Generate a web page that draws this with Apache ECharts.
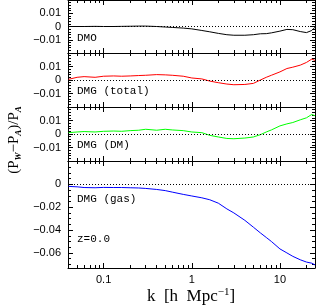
<!DOCTYPE html>
<html><head><meta charset="utf-8">
<script src="https://cdn.jsdelivr.net/npm/echarts@6/dist/echarts.min.js"></script>
<style>html,body{margin:0;padding:0;background:#fff}#c{width:316px;height:307px}</style>
</head><body><div id="c"></div>
<script>
// ---- data ----
const kValues = [0.04,0.05,0.06,0.08,0.1,0.13,0.16,0.2,0.25,0.3,0.4,0.5,0.6,0.8,1.0,1.3,1.6,2.0,2.5,3.0,4.0,5.0,6.0,7.0,8.0,10,12,14,17,20,23,25];
const dmoValues = [0.0,0.0,0.0,0.0001,0.0,0.0,0.0001,0.0002,0.0003,0.0003,0.0,-0.0004,-0.0007,-0.0012,-0.0018,-0.003,-0.004,-0.0052,-0.0062,-0.0066,-0.0066,-0.0062,-0.0055,-0.0054,-0.0048,-0.0035,-0.0022,-0.0024,-0.0038,-0.0046,-0.003,-0.0005];
const totalValues = [0.0005,0.002,0.0025,0.002,0.0028,0.003,0.0028,0.003,0.0033,0.0035,0.004,0.0038,0.0035,0.0028,0.0015,0.0008,-0.0008,-0.002,-0.003,-0.0035,-0.0033,-0.0025,0.0,0.002,0.0035,0.006,0.0085,0.0095,0.011,0.013,0.0155,0.0145];
const dmValues = [0.001,0.0015,0.0018,0.0015,0.002,0.0022,0.002,0.0025,0.0028,0.0035,0.0028,0.0035,0.003,0.0025,0.0015,0.001,-0.001,-0.0022,-0.0033,-0.0035,-0.003,-0.0022,-0.0005,0.0015,0.003,0.006,0.0075,0.0085,0.0105,0.012,0.0145,0.0135];
const gasValues = [-0.0018,-0.0022,-0.0028,-0.003,-0.0027,-0.0028,-0.0028,-0.003,-0.0032,-0.0036,-0.0045,-0.0055,-0.0068,-0.0088,-0.0102,-0.0118,-0.0135,-0.0165,-0.0215,-0.025,-0.0315,-0.0375,-0.0425,-0.0465,-0.05,-0.0565,-0.06,-0.063,-0.066,-0.068,-0.069,-0.0705];
const xTickLabels = [0.1, 1, 10];
const xMinorTicks = [0.04,0.05,0.06,0.07,0.08,0.09,0.2,0.3,0.4,0.5,0.6,0.7,0.8,0.9,2,3,4,5,6,7,8,9,20];
const smallPanelTickLabels = [-0.01, 0, 0.01];
const gasTickLabels = [-0.06, -0.04, -0.02, 0];
const gasMinorTicks = [-0.07,-0.065,-0.06,-0.055,-0.05,-0.045,-0.04,-0.035,-0.03,-0.025,-0.02,-0.015,-0.01,-0.005,0,0.005,0.01,0.015,0.02];
const panelNames = ['DMO', 'DMG (total)', 'DMG (DM)', 'DMG (gas)'];
const redshiftLabel = 'z=0.0';
const seriesValues = [dmoValues, totalValues, dmValues, gasValues];
const seriesColors = ['#000000', '#ff0000', '#00ff00', '#0000ff'];

// ---- layout ----
const KMIN = 0.0394, KMAX = 25;
const panels = [
  {top: 0, h: 53, ymin: -0.02, ymax: 0.02},
  {top: 53, h: 54, ymin: -0.02, ymax: 0.02},
  {top: 107, h: 54, ymin: -0.02, ymax: 0.02},
  {top: 161, h: 107, ymin: -0.0732, ymax: 0.0204}
];
const LEFT = 68, RIGHT = 1;
const black = '#000';
const tickFont = {color: black, fontSize: 11, fontFamily: 'Liberation Sans'};

function near(list, v) { return list.find(t => Math.abs(t - v) < 1e-7); }
function fmtNum(t) {
  if (Math.abs(t) < 1e-12) return '0';
  return (t < 0 ? '\u2212' : '') + String(Math.abs(t));
}

const grids = [], xAxes = [], yAxes = [], series = [];
panels.forEach((p, i) => {
  grids.push({left: LEFT, right: RIGHT, top: p.top, height: p.h, outerBoundsMode: 'none', containLabel: false});
});
panels.forEach((p, i) => {
  grids.push({left: LEFT, right: RIGHT, top: p.top, height: p.h, outerBoundsMode: 'none', containLabel: false});
});

panels.forEach((p, i) => {
  const isLast = i === 3;
  // main x axes (log, major ticks at decades)
  ['bottom', 'top'].forEach(pos => {
    xAxes.push({
      gridIndex: i, type: 'log', logBase: 10, min: KMIN, max: KMAX, position: pos,
      axisLine: {show: true, onZero: false, lineStyle: {color: black, width: 1}},
      axisTick: {show: true, inside: true, length: 5, lineStyle: {color: black, width: 1}},
      axisLabel: {
        show: isLast && pos === 'bottom', margin: 6, ...tickFont,
        showMinLabel: false, showMaxLabel: false,
        formatter: v => { const t = xTickLabels.find(t => Math.abs(t - v) / t < 1e-6); return t === undefined ? '' : String(t); }
      },
      splitLine: {show: false}, minorTick: {show: false}
    });
  });
  // main y axes
  ['left', 'right'].forEach(pos => {
    const ax = {
      gridIndex: i, type: 'value', min: p.ymin, max: p.ymax, position: pos,
      axisLine: {show: true, onZero: false, lineStyle: {color: black, width: 1}},
      axisTick: {show: true, inside: true, length: 5, lineStyle: {color: black, width: 1}},
      splitLine: {show: false},
      axisLabel: {show: pos === 'left', margin: 7, ...tickFont}
    };
    if (!isLast) {
      ax.interval = 0.01;
      ax.minorTick = {show: true, splitNumber: 5, length: 3, lineStyle: {color: black, width: 1}};
      ax.axisLabel.formatter = v => { const t = near(smallPanelTickLabels, v); return t === undefined ? '' : fmtNum(t); };
      ax.axisLabel.showMinLabel = false; ax.axisLabel.showMaxLabel = false;
    } else {
      ax.axisTick.customValues = gasTickLabels;
      ax.axisLabel.customValues = gasTickLabels;
      ax.axisLabel.formatter = v => { const t = near(gasTickLabels, v); return t === undefined ? '' : fmtNum(t); };
    }
    yAxes.push(ax);
  });
});

// overlay axes: minor ticks
panels.forEach((p, i) => {
  const g = 4 + i;
  ['bottom', 'top'].forEach(pos => {
    xAxes.push({
      gridIndex: g, type: 'value', min: Math.log10(KMIN), max: Math.log10(KMAX), position: pos,
      axisLine: {show: false, onZero: false},
      axisTick: {show: true, inside: true, length: 3, customValues: xMinorTicks.map(v => Math.log10(v)), lineStyle: {color: black, width: 1}},
      axisLabel: {show: false}, splitLine: {show: false}
    });
  });
  ['left', 'right'].forEach(pos => {
    const ax = {
      gridIndex: g, type: 'value', min: p.ymin, max: p.ymax, position: pos,
      axisLine: {show: false, onZero: false},
      axisLabel: {show: false}, splitLine: {show: false},
      axisTick: {show: false}
    };
    if (i === 3) {
      ax.axisTick = {show: true, inside: true, length: 3, customValues: gasMinorTicks, lineStyle: {color: black, width: 1}};
    }
    yAxes.push(ax);
  });
});

panels.forEach((p, i) => {
  series.push({
    type: 'line', xAxisIndex: i * 2, yAxisIndex: i * 2,
    data: kValues.map((k, j) => [k, seriesValues[i][j]]),
    showSymbol: false, symbol: 'none', smooth: false, animation: false,
    lineStyle: {color: seriesColors[i], width: 1}, itemStyle: {color: seriesColors[i]},
    markLine: {
      silent: true, symbol: 'none', animation: false,
      label: {show: false},
      lineStyle: {type: [1, 2], color: black, width: 1},
      data: [{yAxis: 0}]
    }
  });
});

const labelFont = '11px "Liberation Mono"';
const labelY = [38, 91, 145, 199];
const graphic = panelNames.map((n, i) => ({
  type: 'text', x: 77, y: labelY[i],
  style: {text: n, font: labelFont, fill: black, align: 'left', verticalAlign: 'middle'}
}));
graphic.push({type: 'text', x: 77, y: 239, style: {text: redshiftLabel, font: labelFont, fill: black, align: 'left', verticalAlign: 'middle'}});
graphic.push({
  type: 'text', x: 191, y: 297,
  style: {
    text: '{m|k  [h  Mpc}{s|\u22121}{m|]}', align: 'center', verticalAlign: 'middle',
    rich: {
      m: {fontFamily: 'Liberation Serif', fontSize: 17, fill: black, lineHeight: 20, verticalAlign: 'middle'},
      s: {fontFamily: 'Liberation Serif', fontSize: 11, fill: black, lineHeight: 11, verticalAlign: 'top'}
    }
  }
});
graphic.push({
  type: 'text', x: 14, y: 140, rotation: Math.PI / 2,
  style: {
    text: '{m|(P}{s|W}{m|\u2212P}{s|A}{m|)/P}{s|A}', align: 'center', verticalAlign: 'middle',
    rich: {
      m: {fontFamily: 'Liberation Serif', fontSize: 15, fill: black, lineHeight: 18, verticalAlign: 'middle'},
      s: {fontFamily: 'Liberation Serif', fontSize: 9, fontStyle: 'italic', fontWeight: 'bold', fill: black, lineHeight: 9, verticalAlign: 'bottom'}
    }
  }
});

const chart = echarts.init(document.getElementById('c'), null, {renderer: 'canvas'});
chart.setOption({
  animation: false,
  backgroundColor: '#fff',
  grid: grids, xAxis: xAxes, yAxis: yAxes, series: series, graphic: graphic
});
</script></body></html>
